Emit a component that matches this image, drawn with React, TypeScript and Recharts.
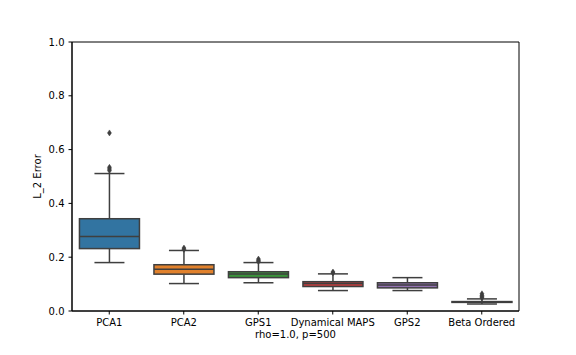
import { ComposedChart, Bar, XAxis, YAxis, ReferenceArea } from 'recharts'

// seaborn boxplot summary
const categories = ['PCA1', 'PCA2', 'GPS1', 'Dynamical MAPS', 'GPS2', 'Beta Ordered']
const whiskerLow = [0.180, 0.102, 0.105, 0.076, 0.076, 0.026]
const q1 = [0.232, 0.137, 0.124, 0.091, 0.086, 0.032]
const median = [0.277, 0.155, 0.138, 0.102, 0.097, 0.033]
const q3 = [0.343, 0.172, 0.146, 0.109, 0.105, 0.035]
const whiskerHigh = [0.511, 0.225, 0.180, 0.138, 0.124, 0.045]
const outliers = [
  [0.662, 0.534, 0.528, 0.522],
  [0.234, 0.229],
  [0.193, 0.188, 0.184],
  [0.145, 0.141],
  [],
  [0.064, 0.058, 0.053, 0.049],
]
const yTicks = [0, 0.2, 0.4, 0.6, 0.8, 1.0]
const colors = ['#3274a1', '#e1812c', '#3a923a', '#c03d3e', '#9372b2', '#845b53']

const data = categories.map((name, i) => ({
  name,
  range: [whiskerLow[i], whiskerHigh[i]],
  lo: whiskerLow[i], q1: q1[i], med: median[i], q3: q3[i], hi: whiskerHigh[i],
  fliers: outliers[i],
  color: colors[i],
}))

const LINE = '#3f3f3f'
const FONT = 'DejaVu Sans, sans-serif'

function BoxShape(props: any) {
  const { x, y, width, height, payload } = props
  if (payload == null) return null
  const top = Math.min(y, y + height)
  const bottom = Math.max(y, y + height)
  // linear scale -> derive pixel from the whisker range the bar was given
  const py = (v: number) => bottom - ((v - payload.lo) / (payload.hi - payload.lo)) * (bottom - top)
  const cx = x + width / 2
  const capHalf = width / 4
  const yq1 = py(payload.q1), yq3 = py(payload.q3), ymed = py(payload.med)
  return (
    <g>
      <line x1={cx} x2={cx} y1={py(payload.hi)} y2={yq3} stroke={LINE} strokeWidth={1.5} />
      <line x1={cx} x2={cx} y1={yq1} y2={py(payload.lo)} stroke={LINE} strokeWidth={1.5} />
      <line x1={cx - capHalf} x2={cx + capHalf} y1={py(payload.hi)} y2={py(payload.hi)} stroke={LINE} strokeWidth={1.5} />
      <line x1={cx - capHalf} x2={cx + capHalf} y1={py(payload.lo)} y2={py(payload.lo)} stroke={LINE} strokeWidth={1.5} />
      <rect x={x} y={yq3} width={width} height={Math.max(yq1 - yq3, 0.5)} fill={payload.color} stroke={LINE} strokeWidth={1.5} />
      <line x1={x} x2={x + width} y1={ymed} y2={ymed} stroke={LINE} strokeWidth={1.5} />
      {payload.fliers.map((v: number, k: number) => {
        const fy = py(v)
        return (
          <polygon key={k} points={`${cx},${fy - 3} ${cx + 2},${fy} ${cx},${fy + 3} ${cx - 2},${fy}`} fill={LINE} stroke={LINE} strokeWidth={0.5} />
        )
      })}
    </g>
  )
}

export default function App() {
  const tickStyle = { fill: '#000', fontSize: 10, fontFamily: FONT }
  return (
    <div style={{ position: 'absolute', left: 0, top: 0, width: 576, height: 355, background: '#fff' }}>
      <ComposedChart width={576} height={355} data={data} margin={{ top: 42, right: 57, bottom: 14, left: 32 }} barCategoryGap="10%">
        <XAxis
          dataKey="name"
          interval={0}
          height={30}
          tick={tickStyle}
          tickSize={3.5}
          tickMargin={4.5}
          stroke="#000"
          axisLine={{ stroke: '#000' }}
          tickLine={{ stroke: '#000' }}
          label={{
            content: (p: any) => {
              const vb = p.viewBox || { x: 72, width: 447 }
              return (
                <text x={vb.x + vb.width / 2} y={338} textAnchor="middle" fill="#000" fontSize={10} fontFamily={FONT}>
                  rho=1.0, p=500
                </text>
              )
            },
          }}
        />
        <YAxis
          domain={[0, 1]}
          ticks={yTicks}
          width={40}
          tickFormatter={(v: number) => v.toFixed(1)}
          tick={tickStyle}
          tickSize={3.5}
          tickMargin={4}
          axisLine={{ stroke: '#000' }}
          tickLine={{ stroke: '#000' }}
          label={{
            content: (p: any) => {
              const vb = p.viewBox || { y: 42, height: 269 }
              const cy = vb.y + vb.height / 2
              return (
                <text x={41} y={cy} transform={`rotate(-90, 41, ${cy})`} textAnchor="middle" fill="#000" fontSize={10} fontFamily={FONT}>
                  L_2 Error
                </text>
              )
            },
          }}
        />
        {/* matplotlib frame on all four sides */}
        <ReferenceArea y1={0} y2={1} fill="none" stroke="#000" strokeWidth={1} ifOverflow="visible" />
        <Bar dataKey="range" shape={BoxShape} isAnimationActive={false} />
      </ComposedChart>
    </div>
  )
}
